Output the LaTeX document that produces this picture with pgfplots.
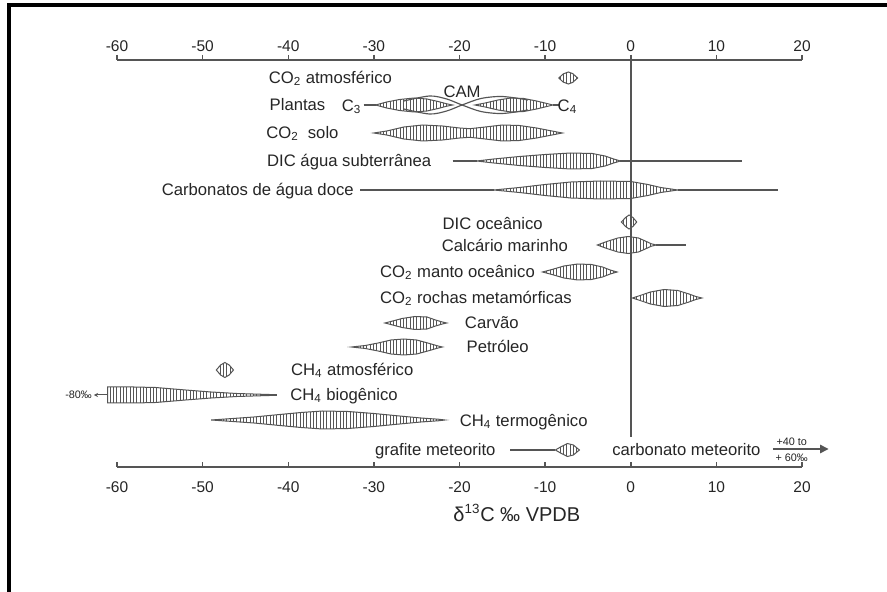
\documentclass[border=0pt]{standalone}
\usepackage{fontspec}
\setmainfont{Liberation Sans}
\usepackage{pgfplots}
\pgfplotsset{compat=1.18}
\usetikzlibrary{patterns.meta,arrows.meta}
\definecolor{ink}{HTML}{262626}
\definecolor{linec}{HTML}{555555}

\tikzset{
  violin/.style={draw=linec, line width=0.6pt,
    pattern={Lines[angle=90,distance=2pt,line width=0.5pt]}, pattern color=linec},
  whisk/.style={draw=linec, line width=0.7pt},
  lab/.style={font=\fontsize{10}{12}\selectfont, text=ink, inner sep=0pt,
    text height=1.45ex, text depth=0.3ex},
  small/.style={font=\fontsize{6.5}{7}\selectfont, text=ink, inner sep=0pt},
}
\pgfplotsset{
  deltaaxis/.style={
    at={(0pt,0pt)}, anchor=south west, scale only axis,
    width=411pt, height=244.2pt,
    xmin=-60, xmax=20, ymin=0, ymax=407,
    axis x line=box, axis y line=none,
    x axis line style={draw=linec, line width=0.9pt},
    xtick={-60,-50,-40,-30,-20,-10,0,10,20},
    xticklabels={-60,-50,-40,-30,-20,-10,0,10,20},
    ytick=\empty,
    major tick length=3pt,
    tick style={draw=linec, line width=0.9pt},
    clip=false,
  },
}

\begin{document}
\begin{tikzpicture}
\useasboundingbox (-70.2pt,-75pt) rectangle (462pt,280.2pt);
\fill[white] (-70.2pt,-75pt) rectangle (462pt,280.2pt);
\draw[black, line width=2.4pt] (462pt,276.9pt) -- (-64.8pt,276.9pt) -- (-64.8pt,-75pt);

% top scale: ticks and numbers only
\begin{axis}[deltaaxis, x axis line style={draw=none},
  xtick pos=upper, xticklabel pos=upper, tick align=outside,
  xticklabel style={font=\fontsize{9.3}{9.3}\selectfont, text=ink, yshift=-1.8pt}]
\end{axis}

% bottom scale and the ranges
\begin{axis}[deltaaxis,
  xtick pos=lower, xticklabel pos=lower, tick align=inside,
  xticklabel style={font=\fontsize{9.3}{9.3}\selectfont, text=ink, yshift=-5pt}]

% zero reference
\addplot[draw=linec, line width=0.9pt] coordinates {(0,30) (0,407)};

% CO2 atmospheric
\addplot[violin] coordinates {(-8.4,389) (-7.9,393) (-7.3,395) (-6.8,393.5) (-6.2,389) (-6.8,384.5) (-7.3,383) (-7.9,385)} -- cycle;

% plants: C3, CAM, C4
\addplot[whisk] coordinates {(-31.2,362) (-29.8,362)};
\addplot[violin] coordinates {(-29.8,362) (-28.5,365) (-27,367.5) (-25.3,369) (-23.8,368) (-22.5,365.5) (-21.5,363.2) (-20.8,362) (-21.5,360.8) (-22.5,358.5) (-23.8,356) (-25.3,355) (-27,356.5) (-28.5,359)} -- cycle;
\addplot[violin] coordinates {(-18.2,362) (-17,364) (-15.5,367) (-14,369) (-12.5,368.5) (-11,366) (-9.8,363.5) (-9.1,362) (-9.8,360.5) (-11,358) (-12.5,355.5) (-14,355) (-15.5,357) (-17,360)} -- cycle;
\addplot[whisk] coordinates {(-9.1,362) (-8.4,362)};
\addplot[whisk, smooth] coordinates {(-26.5,366) (-23.5,371) (-21.5,368) (-19.7,362) (-17.5,355.5) (-15,353.5) (-12,357)};
\addplot[whisk, smooth] coordinates {(-26.5,358) (-23.5,353) (-21.5,356) (-19.7,362) (-17.5,368.5) (-15,370.5) (-12,367)};

% soil CO2
\addplot[violin] coordinates {(-30,334) (-28.5,336) (-26.5,340) (-24.3,342) (-22,341) (-20,339) (-18.8,338.3) (-17,340) (-15,342) (-13,341.5) (-11,339) (-9.2,336) (-8,334) (-9.2,332) (-11,329) (-13,326.5) (-15,326) (-17,328) (-18.8,329.7) (-20,329) (-22,327) (-24.3,326) (-26.5,328) (-28.5,332)} -- cycle;

% groundwater DIC
\addplot[whisk] coordinates {(-20.8,306) (-18,306)};
\addplot[whisk] coordinates {(-1.2,306) (13,306)};
\addplot[violin] coordinates {(-18,306) (-16,308) (-13,310.5) (-10,312.5) (-7,314) (-4.5,313.5) (-3,311) (-2,308) (-1.2,306) (-2,304) (-3,301) (-4.5,298.5) (-7,298) (-10,299.5) (-13,301.5) (-16,304)} -- cycle;

% freshwater carbonates
\addplot[whisk] coordinates {(-31.6,277) (-16,277)};
\addplot[whisk] coordinates {(5.5,277) (17.2,277)};
\addplot[violin] coordinates {(-16,277) (-13,279.5) (-10,282.5) (-7,285) (-3.5,286) (0,285.5) (2,282.5) (3.5,279.5) (5.5,277) (3.5,274.5) (2,271.5) (0,268.5) (-3.5,268) (-7,269) (-10,271.5) (-13,274.5)} -- cycle;

% ocean DIC
\addplot[violin] coordinates {(-1.1,245) (-0.6,249.5) (-0.2,252) (0.25,249.5) (0.7,245) (0.25,240.5) (-0.2,238) (-0.6,240.5)} -- cycle;

% marine limestone
\addplot[violin] coordinates {(-3.9,222) (-2.8,225.5) (-1.5,229) (-0.3,230.5) (0.9,229) (1.7,226) (2.4,223.2) (3,222) (2.4,220.8) (1.7,218) (0.9,215) (-0.3,213.5) (-1.5,215) (-2.8,218.5)} -- cycle;
\addplot[whisk] coordinates {(3,222) (6.4,222)};

% oceanic mantle CO2
\addplot[violin] coordinates {(-10.3,195) (-9.2,197.5) (-7.8,201) (-6.2,203) (-4.6,202.5) (-3.3,200) (-2.4,197) (-1.6,195) (-2.4,193) (-3.3,190) (-4.6,187.5) (-6.2,187) (-7.8,189) (-9.2,192.5)} -- cycle;

% metamorphic CO2
\addplot[violin] coordinates {(0.2,169) (1.1,171.5) (2.3,175) (3.9,177.5) (5.5,176.5) (6.8,173) (7.6,170.5) (8.3,169) (7.6,167.5) (6.8,165) (5.5,161.5) (3.9,160.5) (2.3,163) (1.1,166.5)} -- cycle;

% coal
\addplot[violin] coordinates {(-28.7,144) (-27.8,146) (-26.7,148.5) (-25.2,150.5) (-23.8,150) (-22.8,147) (-22,145) (-21.5,144) (-22,143) (-22.8,141) (-23.8,138) (-25.2,137.5) (-26.7,139.5) (-27.8,142)} -- cycle;

% oil
\addplot[violin] coordinates {(-32.6,120) (-31,121.5) (-29.5,124) (-28,127) (-26.5,128) (-25,127) (-23.5,123.5) (-22.5,121) (-22,120) (-22.5,119) (-23.5,116.5) (-25,113) (-26.5,112) (-28,113) (-29.5,116) (-31,118.5)} -- cycle;

% atmospheric CH4
\addplot[violin] coordinates {(-48.4,97) (-47.9,102) (-47.4,104.5) (-46.9,102) (-46.4,97) (-46.9,92) (-47.4,89.5) (-47.9,92)} -- cycle;

% biogenic CH4
\addplot[violin] coordinates {(-61.1,80) (-58,80) (-55.5,79.5) (-52,77) (-49,75) (-46,73.5) (-43,72.7) (-41.4,72.3) (-41.4,71.7) (-43,71.3) (-46,70.5) (-49,69) (-52,67) (-55.5,64.5) (-58,64) (-61.1,64)} -- cycle;

% thermogenic CH4
\addplot[violin] coordinates {(-49,47) (-47,48.2) (-44,50) (-41,52.5) (-38.5,54.5) (-36,56) (-33,55.5) (-30,53.5) (-27,51) (-24.5,49) (-22.5,47.8) (-21.7,47) (-22.5,46.2) (-24.5,45) (-27,43) (-30,40.5) (-33,38.5) (-36,38) (-38.5,39.5) (-41,41.5) (-44,44) (-47,45.8)} -- cycle;

% meteorite graphite
\addplot[whisk] coordinates {(-14.1,17) (-8.8,17)};
\addplot[violin] coordinates {(-8.8,17) (-8.2,20) (-7.4,23.5) (-6.7,22) (-6,17) (-6.7,12) (-7.4,10.5) (-8.2,14)} -- cycle;

% names of the reservoirs
\node[lab, anchor=west] at (axis cs:-42.3,389) {CO\textsubscript{2} atmosférico};
\node[lab, anchor=west] at (axis cs:-42.2,362) {Plantas};
\node[lab] at (axis cs:-32.6,361) {C\textsubscript{3}};
\node[lab] at (axis cs:-7.4,361) {C\textsubscript{4}};
\node[lab] at (axis cs:-19.7,375) {CAM};
\node[lab, anchor=west] at (axis cs:-42.6,334) {CO\textsubscript{2} \ solo};
\node[lab, anchor=west] at (axis cs:-42.5,306) {DIC água subterrânea};
\node[lab, anchor=west] at (axis cs:-54.8,277) {Carbonatos de água doce};
\node[lab, anchor=west] at (axis cs:-22.0,243) {DIC oceânico};
\node[lab, anchor=west] at (axis cs:-22.1,221) {Calcário marinho};
\node[lab, anchor=west] at (axis cs:-29.3,195) {CO\textsubscript{2} manto oceânico};
\node[lab, anchor=west] at (axis cs:-29.3,169) {CO\textsubscript{2} rochas metamórficas};
\node[lab, anchor=west] at (axis cs:-19.4,144) {Carvão};
\node[lab, anchor=west] at (axis cs:-19.2,120) {Petróleo};
\node[lab, anchor=west] at (axis cs:-39.7,97) {CH\textsubscript{4} atmosférico};
\node[lab, anchor=west] at (axis cs:-39.8,72) {CH\textsubscript{4} biogênico};
\node[lab, anchor=west] at (axis cs:-20.0,46) {CH\textsubscript{4} termogênico};
\node[lab, anchor=west] at (axis cs:-29.9,17) {grafite meteorito};
\node[lab, anchor=west] at (axis cs:-2.2,17) {carbonato meteorito};

% values beyond the scale
\draw[linec, line width=0.6pt, -{Stealth[length=2.5pt,width=2.5pt]}] (axis cs:-61.2,72) -- (axis cs:-62.7,72);
\node[small, anchor=east] at (axis cs:-62.9,72) {-80‰};
\draw[linec, line width=0.8pt, -{Triangle[length=5pt,width=5pt]}] (axis cs:16.6,18) -- (axis cs:23.1,18);
\node[small] at (axis cs:18.8,25.5) {+40 to};
\node[small] at (axis cs:18.8,9.5) {+ 60‰};

% axis title
\node[font=\fontsize{12}{14}\selectfont, text=ink] at (axis cs:-13.3,-46) {δ\textsuperscript{13}C ‰ VPDB};
\end{axis}
\end{tikzpicture}
\end{document}
